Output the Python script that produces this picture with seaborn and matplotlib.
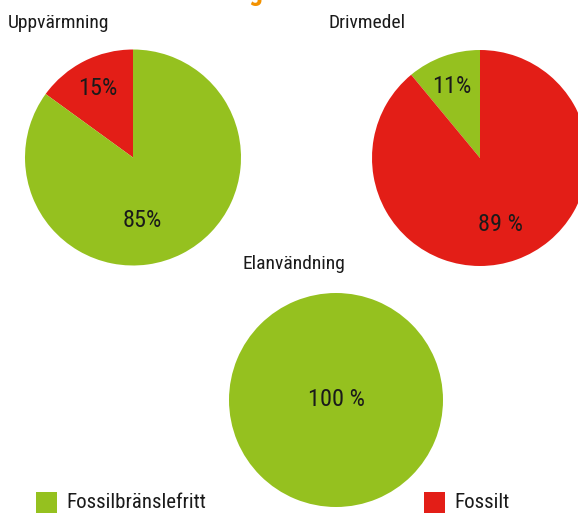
import matplotlib
matplotlib.use("Agg")
import matplotlib.pyplot as plt
from matplotlib.patches import Rectangle
import seaborn as sns

# Share of energy use that is fossil-free vs fossil, per sector
sectors = ["Uppvärmning", "Drivmedel", "Elanvändning"]
fossil_free = [85, 11, 100]
fossil = [15, 89, 0]
category_names = ["Fossilbränslefritt", "Fossilt"]
value_labels = [("85%", "15%"), ("11%", "89 %"), ("100 %", None)]

GREEN = "#95C11F"
RED = "#E31E17"
ORANGE = "#F39200"

sns.set_theme(style="white")
FONT = ["Roboto Condensed", "Open Sans Condensed", "Liberation Sans Narrow",
        "Roboto", "DejaVu Sans"]
plt.rcParams["font.family"] = FONT

W, H = 578, 516
fig = plt.figure(figsize=(W / 100, H / 100), dpi=100)
fig.patch.set_facecolor("white")


def pie_axes(cx, cy, r):
    return fig.add_axes([(cx - r) / W, 1 - (cy + r) / H, 2 * r / W, 2 * r / H])


def finish(ax):
    # pie() resets the limits, so fix them afterwards: radius 1 fills the axes
    ax.set_xlim(-1, 1)
    ax.set_ylim(-1, 1)
    ax.set_aspect("equal")
    ax.axis("off")


txt_kw = dict(fontsize=17.5, color="#1a1a1a", ha="center", va="center")

# Uppvärmning: the fossil wedge runs counter-clockwise from 12 o'clock
ax1 = pie_axes(133, 157.5, 108)
ax1.pie([fossil[0], fossil_free[0]], colors=[RED, GREEN], startangle=90,
        counterclock=True, radius=1, wedgeprops=dict(linewidth=0))
finish(ax1)
ax1.text(-0.33, 0.64, value_labels[0][1], **txt_kw)
ax1.text(0.09, -0.58, value_labels[0][0], **txt_kw)

# Drivmedel: the fossil-free wedge runs counter-clockwise from 12 o'clock
ax2 = pie_axes(480, 158, 108)
ax2.pie([fossil_free[1], fossil[1]], colors=[GREEN, RED], startangle=90,
        counterclock=True, radius=1, wedgeprops=dict(linewidth=0))
finish(ax2)
ax2.text(-0.26, 0.66, value_labels[1][0], **txt_kw)
ax2.text(0.19, -0.62, value_labels[1][1], **txt_kw)

# Elanvändning: entirely fossil-free
ax3 = pie_axes(336, 400, 107)
ax3.pie([fossil_free[2]], colors=[GREEN], startangle=90,
        radius=1, wedgeprops=dict(linewidth=0))
finish(ax3)
ax3.text(0, 0, value_labels[2][0], **txt_kw)

# Sector titles
title_kw = dict(fontsize=14, color="#1a1a1a", va="center")
fig.text(8 / W, 1 - 23 / H, sectors[0], ha="left", **title_kw)
fig.text(328 / W, 1 - 23 / H, sectors[1], ha="left", **title_kw)
fig.text(242 / W, 1 - 264 / H, sectors[2], ha="left", **title_kw)

# Descender of the heading above the chart
fig.text(255 / W, 1.0, "g", ha="center", va="baseline", fontsize=20,
         color=ORANGE, fontweight="bold")

# Legend
legend_kw = dict(fontsize=15, color="#1a1a1a", va="center", ha="left")
for x0, color, name in [(36, GREEN, category_names[0]), (424, RED, category_names[1])]:
    fig.add_artist(Rectangle((x0 / W, 1 - 513 / H), 21 / W, 21 / H,
                             transform=fig.transFigure, facecolor=color,
                             edgecolor="none"))
    fig.text((x0 + 30) / W, 1 - 503 / H, name, **legend_kw)

fig.savefig("out.png", dpi=100, facecolor="white")
